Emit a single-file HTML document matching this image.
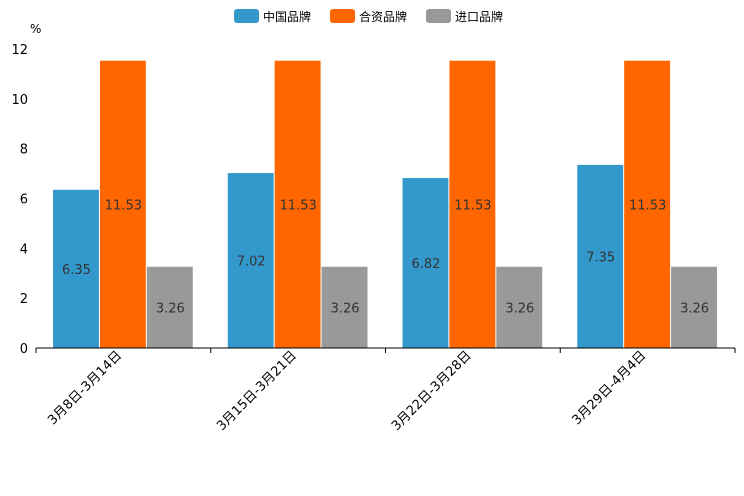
<!DOCTYPE html>
<html><head><meta charset="utf-8"><style>
body{margin:0;background:#fff;}
svg{display:block;font-family:"DejaVu Sans","Noto Sans CJK SC",sans-serif;}
</style></head><body>
<svg id="chart" width="744" height="496"></svg>
<script>
const categories=["3月8日-3月14日","3月15日-3月21日","3月22日-3月28日","3月29日-4月4日"];
const seriesNames=["中国品牌","合资品牌","进口品牌"];
const domestic=[6.35,7.02,6.82,7.35];
const jointVenture=[11.53,11.53,11.53,11.53];
const imported=[3.26,3.26,3.26,3.26];
const yTicks=[0,2,4,6,8,10,12];
const colors=["#3399cc","#ff6600","#999999"];
const NS="http://www.w3.org/2000/svg";
const svg=document.getElementById('chart');
const L=36,R=735,T=49,B=348,yMax=12;
const y=v=>B-(v/yMax)*(B-T);
const gw=(R-L)/categories.length;
const pad=17,bw=(gw-2*pad)/3;
function mk(tag,attrs,parent){const e=document.createElementNS(NS,tag);for(const k in attrs)e.setAttribute(k,attrs[k]);(parent||svg).appendChild(e);return e;}
yTicks.forEach(t=>{
  const tx=mk('text',{x:28,y:y(t)+5,'text-anchor':'end','font-size':13,fill:'#000'});
  tx.textContent=t;
  
  
});
const unit=mk('text',{x:30,y:33,'font-size':12,fill:'#000'});unit.textContent='%';


const series=[domestic,jointVenture,imported];
categories.forEach((c,i)=>{
  const gx=L+i*gw;
  series.forEach((s,j)=>{
    const x=gx+pad+j*bw;
    const r=mk('rect',{x:x,y:y(s[i]),width:bw-1,height:B-y(s[i]),fill:colors[j]});
    
    
    const lb=mk('text',{x:x+bw/2,y:(y(s[i])+B)/2+5,'text-anchor':'middle','font-size':13,fill:'#333'});
    lb.textContent=s[i].toFixed(2);
    
    
  });
  const cx=gx+gw/2-1, cy=356;
  const xl=mk('text',{x:cx,y:cy,'text-anchor':'end','font-size':13,fill:'#000',transform:`rotate(-45 ${cx} ${cy})`});
  xl.textContent=c;
  
  
});
const ax=mk('line',{x1:L,y1:B,x2:R,y2:B,stroke:'#000','stroke-width':1});


for(let i=0;i<=categories.length;i++){
  const x=L+i*gw;
  mk('line',{x1:x,y1:B,x2:x,y2:B+5,stroke:'#000'});
}
const lx=[234,330,426];
seriesNames.forEach((n,j)=>{
  const g=mk('g',{});
  
  
  mk('rect',{x:lx[j],y:9,width:25,height:14,rx:3,fill:colors[j]},g);
  const t=mk('text',{x:lx[j]+29,y:21,'font-size':12,fill:'#000'},g);t.textContent=n;
});
</script>
</body></html>
